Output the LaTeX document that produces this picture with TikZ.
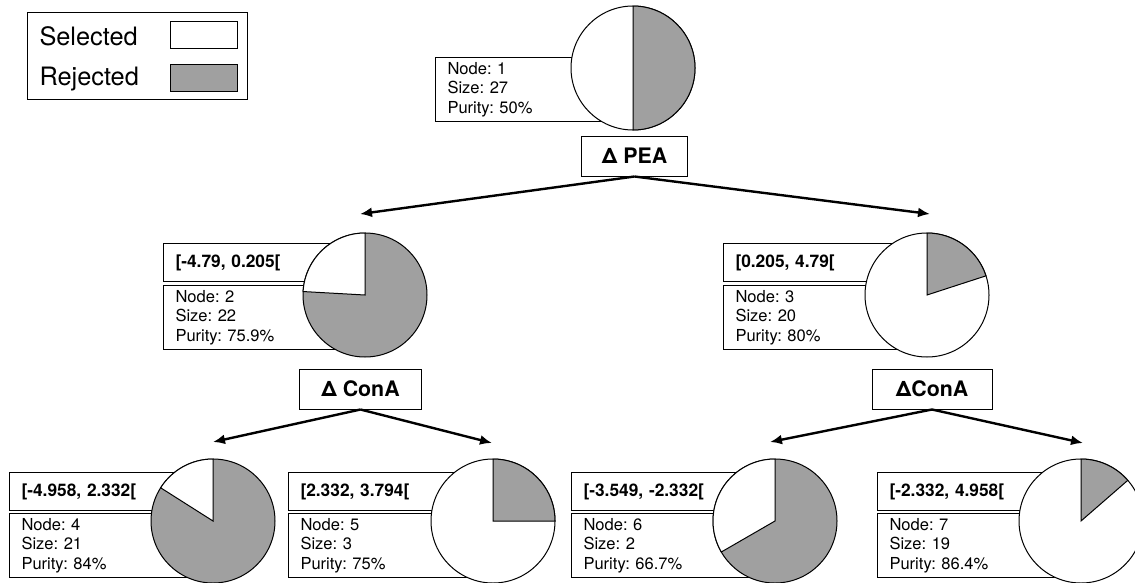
\documentclass[tikz,border=0pt]{standalone}
\usepackage{fontspec}
\setmainfont{TeX Gyre Heros}
\usetikzlibrary{arrows.meta}
\definecolor{rejgray}{RGB}{160,160,160}
\frenchspacing

\tikzset{every picture/.style={line width=0.75pt}}
\tikzset{
  pie/.style={circle, draw, minimum size=93pt, inner sep=0pt},
  infobox/.style={draw, fill=white, anchor=north west, minimum height=48pt, text width=132pt, inner xsep=9pt, inner ysep=0pt, align=left, font=\fontsize{12.4}{14.6}\selectfont},
  rangebox/.style={draw, fill=white, anchor=north west, minimum height=28.5pt, text width=132pt, inner xsep=9pt, inner ysep=0pt, align=left, font=\fontsize{13}{15}\selectfont\bfseries},
  splitbox/.style={draw, fill=white, minimum height=30pt, inner sep=0pt, font=\fontsize{16}{18}\selectfont\bfseries},
  swatch/.style={draw, minimum width=50.25pt, minimum height=20.25pt, inner sep=0pt},
  branch/.style={line width=1.8pt, -{Latex[length=9pt,width=7.5pt]}}
}
\newcommand{\pieslice}[4]{\draw[fill=#4] (#1.center) -- ++({-#2}:62) arc[start angle={-#2}, end angle={-#3}, radius=62] -- cycle;}

\begin{document}
\begin{tikzpicture}[x=0.75pt,y=0.75pt,yscale=-1,xscale=1]
\clip (0,0) rectangle (1135,582);

%Legend
\draw (27,12) rectangle (247,99);
\node [anchor=west, inner sep=0pt, font=\fontsize{19}{21}\selectfont] (selt) at (39,36) {Selected};
\node [anchor=west, inner sep=0pt, font=\fontsize{19}{21}\selectfont] (rejt) at (39,79) {Rejected};
\node [swatch, fill=white] (sels) at (203.5,34.5) {};
\node [swatch, fill=rejgray] (rejs) at (203.5,77.5) {};

% Node 1
\node [infobox, minimum width=150pt] (i1) at (435,57) {Node: 1\\Size: 27\\Purity: 50\%};
\node [pie, fill=white] (p1) at (633,68) {};
\pieslice{p1}{-90}{90}{rejgray}
\node [splitbox, minimum width=80pt] (s1) at (634.5,156) {Δ PEA};

% Node 2
\node [rangebox] (r2) at (163,243) {[-4.79, 0.205[};
\node [infobox] (i2) at (163,285) {Node: 2\\Size: 22\\Purity: 75.9\%};
\node [pie, fill=rejgray] (p2) at (365,295) {};
\pieslice{p2}{90}{176.8}{white}
\node [splitbox, minimum width=92pt] (s2) at (360.5,389) {Δ ConA};

% Node 3
\node [rangebox] (r3) at (723,243) {[0.205, 4.79[};
\node [infobox] (i3) at (723,285) {Node: 3\\Size: 20\\Purity: 80\%};
\node [pie, fill=white] (p3) at (927,295) {};
\pieslice{p3}{18}{90}{rejgray}
\node [splitbox, minimum width=90pt] (s3) at (932,389) {ΔConA};

% Node 4
\node [rangebox] (r4) at (9,472) {[-4.958, 2.332[};
\node [infobox] (i4) at (9,513) {Node: 4\\Size: 21\\Purity: 84\%};
\node [pie, fill=rejgray] (p4) at (213,521) {};
\pieslice{p4}{90}{147.6}{white}

% Node 5
\node [rangebox] (r5) at (288,472) {[2.332, 3.794[};
\node [infobox] (i5) at (288,513) {Node: 5\\Size: 3\\Purity: 75\%};
\node [pie, fill=white] (p5) at (493,521) {};
\pieslice{p5}{0}{90}{rejgray}

% Node 6
\node [rangebox] (r6) at (571,472) {[-3.549, -2.332[};
\node [infobox] (i6) at (571,513) {Node: 6\\Size: 2\\Purity: 66.7\%};
\node [pie, fill=rejgray] (p6) at (775,521) {};
\pieslice{p6}{90}{210}{white}

% Node 7
\node [rangebox] (r7) at (877,472) {[-2.332, 4.958[};
\node [infobox] (i7) at (877,513) {Node: 7\\Size: 19\\Purity: 86.4\%};
\node [pie, fill=white] (p7) at (1081,521) {};
\pieslice{p7}{41}{90}{rejgray}

% Arrow ends
\coordinate (e2) at (360,214);
\coordinate (e3) at (930,214);
\coordinate (e4) at (213,442);
\coordinate (e5) at (492,443);
\coordinate (e6) at (770,442);
\coordinate (e7) at (1083,443);

\draw [branch] (s1.south) -- (e2);
\draw [branch] (s1.south) -- (e3);
\draw [branch] (s2.south) -- (e4);
\draw [branch] (s2.south) -- (e5);
\draw [branch] (s3.south) -- (e6);
\draw [branch] (s3.south) -- (e7);

\end{tikzpicture}
\end{document}
